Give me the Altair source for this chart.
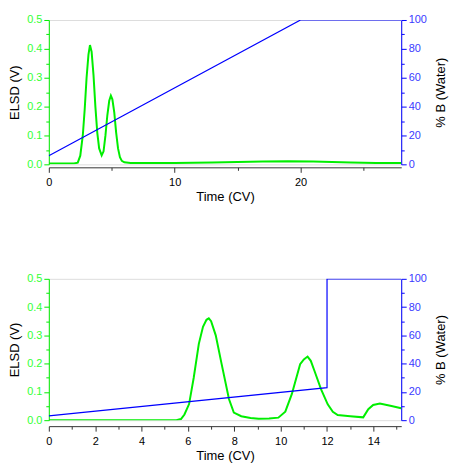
import altair as alt
import pandas as pd

# ---- Top chromatogram (0-28 CV) ----
top_t = [0, 1.0, 2.0, 2.3, 2.5, 2.7, 2.85, 3.0, 3.15, 3.27, 3.4, 3.55, 3.7, 3.85, 4.0, 4.2, 4.35, 4.5, 4.65, 4.8, 4.93, 5.05, 5.2, 5.35, 5.5, 5.65, 5.8, 6.0, 6.5, 7.0, 10, 13, 15, 17, 19, 21, 22.5, 24, 26, 28]
top_elsd = [0.003, 0.003, 0.003, 0.006, 0.03, 0.10, 0.19, 0.30, 0.38, 0.413, 0.39, 0.31, 0.20, 0.11, 0.055, 0.031, 0.045, 0.10, 0.17, 0.22, 0.238, 0.225, 0.18, 0.11, 0.055, 0.025, 0.012, 0.007, 0.005, 0.005, 0.005, 0.006, 0.008, 0.01, 0.011, 0.01, 0.008, 0.006, 0.005, 0.005]
top_grad_t = [0, 20, 28]
top_grad_b = [6, 100, 100]

# ---- Bottom chromatogram (0-15.2 CV) ----
bot_t = [0, 2, 4, 5.5, 5.7, 5.85, 6.05, 6.25, 6.47, 6.65, 6.8, 6.9, 7.0, 7.2, 7.45, 7.77, 7.98, 8.3, 8.7, 9.05, 9.5, 9.9, 10.2, 10.48, 10.84, 11.0, 11.16, 11.3, 11.46, 11.74, 12.03, 12.25, 12.46, 13.0, 13.56, 13.78, 13.99, 14.28, 14.78, 15.2]
bot_elsd = [0.0, 0.0, 0.0, 0.0, 0.004, 0.02, 0.057, 0.15, 0.27, 0.33, 0.355, 0.36, 0.35, 0.30, 0.20, 0.075, 0.027, 0.014, 0.008, 0.005, 0.006, 0.009, 0.03, 0.092, 0.198, 0.215, 0.225, 0.21, 0.174, 0.11, 0.056, 0.03, 0.018, 0.014, 0.01, 0.039, 0.054, 0.059, 0.05, 0.042]
bot_grad_t = [0, 12, 12, 15.2]
bot_grad_b = [3, 23, 100, 100]

GREEN = "#00ee00"
GREEN_TXT = "#33ff33"
BLUE = "#0000ff"
BLUE_TXT = "#3a3aff"
FONT = "Liberation Sans"

left_vals = [round(i * 0.05, 2) for i in range(11)]
right_vals = list(range(0, 101, 10))


def panel(t, elsd, gt, gb, xmax, xvals, xmajor_test, h, xoffset):
    d1 = pd.DataFrame({"t": t, "v": elsd, "i": list(range(len(t)))})
    d2 = pd.DataFrame({"t": gt, "b": gb, "i": list(range(len(gt)))})
    xaxis = alt.Axis(
        title="Time (CV)", values=xvals, grid=False, offset=xoffset,
        labelExpr=f"({xmajor_test}) ? datum.label : ''", labelOverlap=False,
        tickSize={"condition": {"test": xmajor_test, "value": 5}, "value": 3},
        domainColor="#333333", tickColor="#333333", labelColor="#000000",
        labelFontSize=11, titleFontSize=13, titleFontWeight="normal",
        labelFont=FONT, titleFont=FONT, titleColor="#000000", titlePadding=3,
        labelPadding=4, labelFlush=False,
    )
    xenc = alt.X("t:Q", scale=alt.Scale(domain=[0, xmax], nice=False, zero=False), axis=xaxis)
    ytest = "abs(datum.value*10 - round(datum.value*10)) < 0.001"
    green = alt.Chart(d1).mark_line(color=GREEN, strokeWidth=2, clip=True).encode(
        x=xenc,
        y=alt.Y("v:Q", scale=alt.Scale(domain=[0, 0.5], nice=False, zero=False),
                axis=alt.Axis(title="ELSD (V)", orient="left", values=left_vals, grid=False,
                              format=".1f", labelExpr=f"({ytest}) ? datum.label : ''",
                              labelOverlap=False,
                              tickSize={"condition": {"test": ytest, "value": 5}, "value": 3},
                              domainColor=GREEN, tickColor=GREEN, labelColor=GREEN_TXT,
                              labelFontSize=11, titleFontSize=13, titleFontWeight="normal",
                              labelFont=FONT, titleFont=FONT, titleColor="#000000",
                              titlePadding=5, labelPadding=2)),
        order="i:Q",
    )
    rtest = "datum.value % 20 === 0"
    blue = alt.Chart(d2).mark_line(color=BLUE, strokeWidth=1.2, clip=True).encode(
        x=xenc,
        y=alt.Y("b:Q", scale=alt.Scale(domain=[0, 100], nice=False, zero=False),
                axis=alt.Axis(title="% B (Water)", orient="right", values=right_vals, grid=False,
                              labelExpr=f"({rtest}) ? datum.label : ''", labelOverlap=False,
                              tickSize={"condition": {"test": rtest, "value": 5}, "value": 3},
                              domainColor=BLUE, tickColor=BLUE, labelColor=BLUE_TXT,
                              labelFontSize=11, titleFontSize=13, titleFontWeight="normal",
                              labelFont=FONT, titleFont=FONT, titleColor="#000000",
                              titleAngle=270, titleBaseline="top",
                              titlePadding=8, labelPadding=2)),
        order="i:Q",
    )
    return alt.layer(green, blue).resolve_scale(y="independent").properties(width=354, height=h)


top = panel(top_t, top_elsd, top_grad_t, top_grad_b, 28, [0, 5, 10, 15, 20, 25],
            "datum.value % 10 === 0", 145, 3)
bottom = panel(bot_t, bot_elsd, bot_grad_t, bot_grad_b, 15.2, list(range(0, 16)),
               "datum.value % 2 === 0", 142, 6)

chart = alt.vconcat(top, bottom, spacing=68).properties(
    padding={"left": 0, "top": 4, "right": 2, "bottom": 5}
).configure_view(stroke=None).configure(font=FONT)

chart.save("out.html", embed_options={"renderer": "svg", "actions": False})
